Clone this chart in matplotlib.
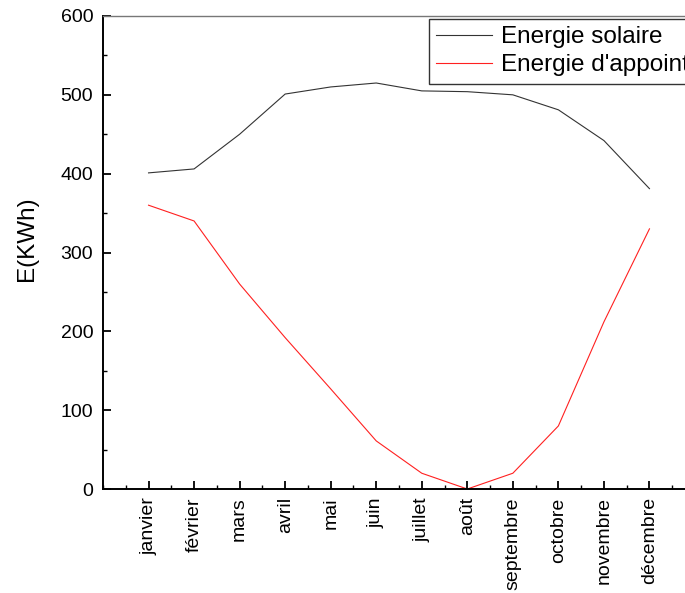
import matplotlib.pyplot as plt
from matplotlib.ticker import MultipleLocator

plt.rcParams['font.family'] = ['Liberation Sans', 'DejaVu Sans']

mois = ['janvier', 'février', 'mars', 'avril', 'mai', 'juin', 'juillet',
        'août', 'septembre', 'octobre', 'novembre', 'décembre']
solaire = [401, 406, 450, 501, 510, 515, 505, 504, 500, 481, 442, 381]
appoint = [360, 340, 260, 192, 127, 61, 20, 0, 20, 80, 212, 330]

x = list(range(1, len(mois) + 1))

fig = plt.figure(figsize=(6.85, 5.93), dpi=100)
ax = fig.add_axes([103 / 685, 104 / 593, 592 / 685, 473 / 593])

ax.plot(x, solaire, color='#333333', linewidth=0.8, label='Energie solaire')
ax.plot(x, appoint, color='#ff2020', linewidth=0.8, label="Energie d'appoint")

ax.set_xlim(0, 13)
ax.set_ylim(0, 600)
ax.set_xticks(x)
ax.set_xticklabels(mois, rotation=90)
ax.xaxis.set_minor_locator(MultipleLocator(0.5))
ax.yaxis.set_major_locator(MultipleLocator(100))
ax.yaxis.set_minor_locator(MultipleLocator(50))

ax.tick_params(which='major', direction='in', length=6, width=1.3,
               labelsize=14, pad=7)
ax.tick_params(which='minor', direction='in', length=3, width=1.0)
ax.tick_params(axis='x', which='major', pad=6)

ax.set_ylabel('E(KWh)', fontsize=17.5, labelpad=16, y=0.53)

for s in ['left', 'bottom']:
    ax.spines[s].set_linewidth(1.4)
ax.spines['top'].set_color('#777777')
ax.spines['top'].set_linewidth(1.0)

leg = fig.legend(loc='upper left', bbox_to_anchor=(429 / 685, 1 - 19 / 593),
                 fontsize=17.5, frameon=True, fancybox=False, borderaxespad=0,
                 handlelength=2.3, borderpad=0.3, labelspacing=0.25,
                 handletextpad=0.35)
leg.get_frame().set_edgecolor('black')
leg.get_frame().set_linewidth(1.0)

fig.savefig('out.png', dpi=100)
